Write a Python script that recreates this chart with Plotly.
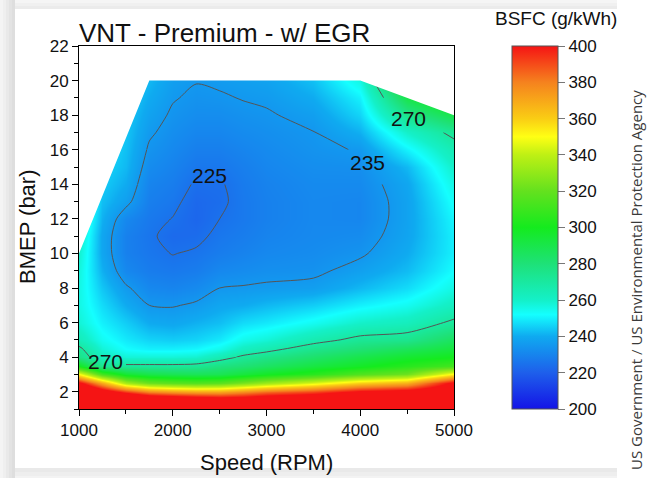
import numpy as np
import plotly.graph_objects as go

# Engine operating grid
speed_rpm = [1000, 1250, 1500, 1750, 2000, 2250, 2500, 2750, 3000, 3500, 4000, 4500, 5000]
bmep_bar = [1, 1.5, 2, 2.5, 3, 3.5, 4, 4.5, 5, 6, 7, 8, 9, 10, 11, 12, 13, 14, 15, 16,
            17, 18, 19, 20, 21, 22]

# BSFC (g/kWh) along each constant-speed line, one value per BMEP level above
bsfc_1000 = [520, 480, 440, 405, 350, 300, 276, 272, 264, 258, 256, 256, 257, 259, 261, 264,
             267, 270, 273, 276, 279, 282, 285, 288, 291, 294]
bsfc_1250 = [500, 460, 415, 370, 312, 274, 263, 258, 254, 250, 247, 244, 241, 239, 239, 241,
             243, 245, 247, 249, 251, 253, 255, 257, 259, 261]
bsfc_1500 = [490, 445, 395, 335, 295, 272, 258, 252, 249, 245, 240, 236, 231, 229, 229, 231,
             237, 240, 242, 243, 244, 245, 246, 247, 248, 249]
bsfc_1750 = [480, 430, 380, 322, 290, 272, 258, 250, 246, 240, 235, 231, 228, 226.5, 226, 227,
             228.5, 230, 232, 234, 236, 238, 240, 242, 244, 246]
bsfc_2000 = [470, 425, 375, 318, 288, 272, 258, 250, 245, 239, 234.5, 230, 227, 224.8, 223,
             224.8, 226.5, 228, 229.5, 231, 232.5, 234, 235.5, 237, 239, 241]
bsfc_2250 = [465, 420, 372, 316, 287, 273, 259, 251, 246, 241, 236, 231.5, 228, 225.8, 223.5,
             222, 222.5, 224.2, 226.5, 228.5, 230.5, 232.3, 233.8, 235.3, 237, 239]
bsfc_2500 = [460, 415, 372, 318, 288, 278, 265, 255, 249, 243, 239, 235, 231, 228, 226.5, 225,
             223.8, 224.3, 226.5, 228.5, 230.5, 232.3, 234.3, 236, 238, 240]
bsfc_2750 = [460, 415, 378, 325, 293, 281, 272, 262, 255, 247, 240, 235.5, 232, 229.5, 228,
             227, 227, 227.5, 228.5, 230, 231.8, 233.5, 235.3, 237, 239, 241]
bsfc_3000 = [460, 420, 385, 333, 298, 285, 276, 266, 258, 249, 242, 236, 233, 231, 229.8, 229,
             229, 229.5, 230.5, 231.5, 232.8, 234.3, 236, 238, 240, 242]
bsfc_3500 = [465, 425, 392, 345, 305, 292, 283, 275, 266, 254, 245, 237, 233.5, 232, 231.2,
             231, 231, 231.5, 232.5, 233.8, 234.8, 237, 240, 243, 246, 249]
bsfc_4000 = [470, 430, 405, 360, 315, 298, 290, 281, 273, 260, 250, 242, 237.5, 234, 232,
             230.5, 230.5, 231.5, 232.8, 235.4, 241, 246, 250, 256, 264, 272]
bsfc_4500 = [475, 435, 410, 368, 322, 305, 296, 287, 275, 263, 254, 247, 242.5, 240, 238.5,
             238, 238, 239, 242, 250, 260, 275, 290, 305, 320, 335]
bsfc_5000 = [480, 445, 420, 405, 352, 312, 300, 293, 286, 272, 262, 256, 252, 250, 250, 251,
             253, 256, 260, 265, 273, 290, 305, 320, 335, 350]

# Full-load (maximum BMEP) boundary of the map
limit_speed = [1000, 1750, 4000, 5000]
limit_bmep = [10, 20, 20, 18]

# Labelled iso-BSFC lines
contour_levels = [225, 235, 270]

colorbar_ticks = [200, 220, 240, 260, 280, 300, 320, 340, 360, 380, 400]

bsfc = np.array([bsfc_1000, bsfc_1250, bsfc_1500, bsfc_1750, bsfc_2000, bsfc_2250,
                 bsfc_2500, bsfc_2750, bsfc_3000, bsfc_3500, bsfc_4000, bsfc_4500,
                 bsfc_5000], dtype=float).T
spd = np.array(speed_rpm, dtype=float)
bmp = np.array(bmep_bar, dtype=float)

rainbow = [
    [0.00, "rgb(20,20,230)"],
    [0.10, "rgb(30,95,235)"],
    [0.20, "rgb(15,170,240)"],
    [0.26, "rgb(20,255,255)"],
    [0.30, "rgb(20,240,200)"],
    [0.40, "rgb(30,225,120)"],
    [0.50, "rgb(20,235,30)"],
    [0.60, "rgb(100,225,30)"],
    [0.70, "rgb(190,240,20)"],
    [0.75, "rgb(255,255,20)"],
    [0.80, "rgb(250,205,20)"],
    [0.90, "rgb(245,130,30)"],
    [1.00, "rgb(245,20,20)"],
]

FONT = "Liberation Sans, Arial, sans-serif"
W, H = 652, 478
L, R, T, B = 79, 198, 46, 69
PW, PH = W - L - R, H - T - B


def px_x(px):
    return (px - L) / PW


def px_y(py):
    return (H - B - py) / PH


fig = go.Figure()

fig.add_trace(go.Heatmap(
    x=speed_rpm, y=bmep_bar, z=bsfc,
    zmin=200, zmax=400, zsmooth="best", colorscale=rainbow,
    colorbar=dict(
        x=px_x(512), xanchor="left", xpad=0, y=0.5, yanchor="middle", ypad=0,
        len=1, lenmode="fraction", thickness=46,
        outlinecolor="#555555", outlinewidth=1,
        tickvals=colorbar_ticks, ticks="outside", ticklen=7, tickcolor="#777777",
        tickfont=dict(family=FONT, size=17, color="#111111"),
    ),
    hoverinfo="skip",
))


def iso_line(level, bmep_span, speed_span=(1000, 5000)):
    """One iso-BSFC line drawn over a sub-window of the grid (leaves room for labels)."""
    rows = (bmp >= bmep_span[0]) & (bmp <= bmep_span[1])
    cols = (spd >= speed_span[0]) & (spd <= speed_span[1])
    return go.Contour(
        x=spd[cols], y=bmp[rows], z=bsfc[np.ix_(rows, cols)],
        autocontour=False,
        contours=dict(start=level, end=level, size=1, coloring="none", showlabels=False),
        line=dict(color="#555555", width=1, smoothing=0.8),
        showscale=False, hoverinfo="skip",
    )


lvl225, lvl235, lvl270 = contour_levels
fig.add_trace(iso_line(lvl225, (1, 14)))
fig.add_trace(iso_line(lvl235, (1, 14)))
fig.add_trace(iso_line(lvl235, (16, 22)))
fig.add_trace(iso_line(lvl235, (14, 16), (1000, 3000)))
fig.add_trace(iso_line(lvl270, (4, 17)))
fig.add_trace(iso_line(lvl270, (1, 4), (1500, 5000)))
fig.add_trace(iso_line(lvl270, (19, 22)))

# Blank out the region above the full-load line
mask_x = limit_speed + [limit_speed[-1], limit_speed[0]]
mask_y = limit_bmep + [22, 22]
fig.add_trace(go.Scatter(
    x=mask_x, y=mask_y, mode="lines", fill="toself",
    fillcolor="white", line=dict(width=0, color="white"),
    hoverinfo="skip", showlegend=False,
))

axis_common = dict(
    showline=True, linecolor="black", linewidth=1, mirror=True,
    ticks="outside", ticklen=6, tickcolor="black", showgrid=False, zeroline=False,
    tickfont=dict(family=FONT, size=17, color="#111111"),
)
fig.update_xaxes(range=[1000, 5000], tickvals=[1000, 2000, 3000, 4000, 5000],
                 minor=dict(ticks="outside", ticklen=4, dtick=500, tick0=1000,
                            tickcolor="black", showgrid=False),
                 **axis_common)
fig.update_yaxes(range=[1, 22], tick0=0, dtick=2,
                 minor=dict(ticks="outside", ticklen=4, dtick=1, tick0=0,
                            tickcolor="black", showgrid=False),
                 **axis_common)

# Card shadow around the figure panel
shapes = []
left_steps = ["#f4f4f4", "#efefef", "#e9e9e9", "#e3e3e3", "#dedede"]
for i, c in enumerate(left_steps):
    shapes.append(dict(type="rect", xref="paper", yref="paper", layer="below",
                       x0=px_x(i * 3), x1=px_x(i * 3 + 3), y0=px_y(H), y1=px_y(0),
                       fillcolor=c, line=dict(width=0)))
top_steps = ["#f5f5f5", "#f0f0f0", "#ebebeb"]
for i, c in enumerate(top_steps):
    shapes.append(dict(type="rect", xref="paper", yref="paper", layer="below",
                       x0=px_x(15), x1=px_x(617), y0=px_y(i * 3 + 3), y1=px_y(i * 3),
                       fillcolor=c, line=dict(width=0)))
bottom_steps = ["#e9e9e9", "#eeeeee", "#f3f3f3"]
for i, c in enumerate(bottom_steps):
    shapes.append(dict(type="rect", xref="paper", yref="paper", layer="below",
                       x0=px_x(15), x1=px_x(617), y0=px_y(468 + i * 4 + 4),
                       y1=px_y(468 + i * 4),
                       fillcolor=c, line=dict(width=0)))

# Iso-line labels, written in the gaps left in each line
label_spots = [(lvl225, 2397, 14.5), (lvl235, 4077, 15.27),
               (lvl270, 1282, 3.72), (lvl270, 4515, 17.8)]
annotations = [
    dict(text=str(lv), x=sx, y=by, xref="x", yref="y", xanchor="center",
         yanchor="middle", showarrow=False,
         font=dict(family=FONT, size=21, color="#111111"))
    for lv, sx, by in label_spots
]

annotations += [
    dict(text="VNT - Premium - w/ EGR", xref="paper", yref="paper",
         x=px_x(77), y=px_y(33), xanchor="left", yanchor="middle", showarrow=False,
         font=dict(family=FONT, size=26, color="#111111")),
    dict(text="Speed (RPM)", xref="paper", yref="paper",
         x=px_x(266), y=px_y(462), xanchor="center", yanchor="middle", showarrow=False,
         font=dict(family=FONT, size=22, color="#111111")),
    dict(text="BMEP (bar)", xref="paper", yref="paper",
         x=px_x(27), y=px_y(227), xanchor="center", yanchor="middle", showarrow=False,
         textangle=-90, font=dict(family=FONT, size=22, color="#111111")),
    dict(text="BSFC (g/kWh)", xref="paper", yref="paper",
         x=px_x(556), y=px_y(18), xanchor="center", yanchor="middle", showarrow=False,
         font=dict(family=FONT, size=19, color="#111111")),
    dict(text="US Government / US Environmental Protection Agency", xref="paper",
         yref="paper", x=px_x(636), y=px_y(280), xanchor="center", yanchor="middle",
         showarrow=False, textangle=-90,
         font=dict(family="Open Sans, sans-serif", size=15, color="#3a3a3a")),
]

fig.update_layout(
    width=W, height=H,
    margin=dict(l=L, r=R, t=T, b=B, pad=0),
    paper_bgcolor="white", plot_bgcolor="white",
    showlegend=False,
    shapes=shapes, annotations=annotations,
)

fig.write_html("out.html")
